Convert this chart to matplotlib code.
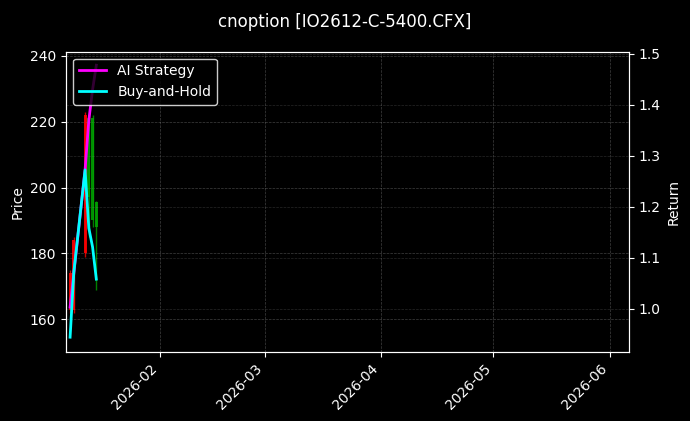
import numpy as np
import pandas as pd
import matplotlib
matplotlib.use("Agg")
import matplotlib.pyplot as plt
import matplotlib.dates as mdates

# daily bars
dates = pd.to_datetime(["2026-01-08", "2026-01-09", "2026-01-12",
                        "2026-01-13", "2026-01-14", "2026-01-15"])
opens = [174, 184, 222, 197, 190, 188]
highs = [175, 185, 223, 222, 222, 196]
lows = [162, 162, 179, 185, 188, 169]
closes = [163, 163, 180, 221, 221, 195.5]

ai_ret = [1.003, 1.07, 1.2725, 1.37, 1.43, 1.478]
bh_ret = [0.944, 1.072, 1.2725, 1.158, 1.121, 1.058]

plt.style.use("dark_background")
fig = plt.figure(figsize=(6.9, 4.21), dpi=100, facecolor="black")
ax = fig.add_axes([0.0957, 0.1646, 0.8159, 0.7126])
ax.set_facecolor("black")

x = mdates.date2num(dates)
for xi, o, h, l, c in zip(x, opens, highs, lows, closes):
    col = "#00a000" if c >= o else "#ff0000"
    ax.vlines(xi, l, h, color=col, linewidth=1, alpha=0.8)
    ax.bar(xi, abs(c - o), bottom=min(o, c), width=0.8, color=col, alpha=0.9)

ax.set_ylabel("Price")
ax.set_ylim(150.2, 241.2)
ax.grid(True, linestyle="--", linewidth=0.5, color="gray", alpha=0.5)

ax2 = ax.twinx()
l1, = ax2.plot(dates, ai_ret, color="#ff00ff", linewidth=2, label="AI Strategy")
l2, = ax2.plot(dates, bh_ret, color="#00ffff", linewidth=2, label="Buy-and-Hold")
ax2.set_ylabel("Return")
ax2.set_ylim(0.9155, 1.5045)
ax2.grid(True, linestyle="--", linewidth=0.5, color="gray", alpha=0.3)

ax.set_xlim(mdates.date2num(pd.Timestamp("2026-01-06 22:00")),
            mdates.date2num(pd.Timestamp("2026-06-06 04:00")))
ax.xaxis.set_major_locator(mdates.MonthLocator())
ax.xaxis.set_major_formatter(mdates.DateFormatter("%Y-%m"))
plt.setp(ax.get_xticklabels(), rotation=45, ha="right")

leg = ax2.legend(handles=[l1, l2], loc="upper left", facecolor="black",
                 edgecolor="white", framealpha=0.8)

fig.suptitle("cnoption [IO2612-C-5400.CFX]", fontsize=12, y=0.97)

fig.savefig("out.png", dpi=100, facecolor="black")
